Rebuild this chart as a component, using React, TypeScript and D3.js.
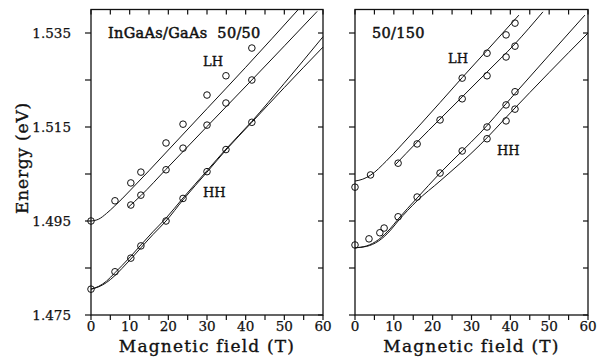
import React from 'react';
import * as d3 from 'd3';

// ---- shared axes ----
const energyTicks = [1.475, 1.485, 1.495, 1.505, 1.515, 1.525, 1.535];
const energyLabels = [1.475, 1.495, 1.515, 1.535];
const fieldTicks = [0, 5, 10, 15, 20, 25, 30, 35, 40, 45, 50, 55, 60];
const fieldLabels = [0, 10, 20, 30, 40, 50, 60];

// ---- 50/50 panel: measured points ----
const fieldL = [0, 6.2, 10.3, 12.9, 19.4, 23.8, 30, 34.9, 41.6];
const lhUpperL = [1.495, 1.4993, 1.5031, 1.5054, 1.5116, 1.5156, 1.5218, 1.5259, 1.5318];
const fieldLhLowerL = [10.3, 12.9, 19.4, 23.8, 30, 34.9, 41.6];
const lhLowerL = [1.4984, 1.5005, 1.5059, 1.5105, 1.5154, 1.5201, 1.525];
const hhL = [1.4805, 1.4842, 1.4871, 1.4897, 1.495, 1.4998, 1.5055, 1.5102, 1.516];

// ---- 50/50 panel: fitted curves [field, energy] ----
const curveLhUpperL: [number, number][] = [
  [0, 1.495], [2, 1.4954], [4, 1.4966], [6, 1.4981], [8, 1.4997], [10, 1.5014],
  [15, 1.5057], [20, 1.5101], [30, 1.5189], [40, 1.5277], [53.5, 1.5399],
];
const curveLhLowerL: [number, number][] = [
  [9.6, 1.4979], [12.9, 1.5004], [19.4, 1.506], [30, 1.5151], [41.6, 1.525], [58.5, 1.5396],
];
const curveHh1L: [number, number][] = [
  [0, 1.4805], [2, 1.4811], [4, 1.4822], [6.2, 1.484], [8, 1.4855], [10.3, 1.4875],
  [12.9, 1.4899], [16, 1.4927], [19.4, 1.4956], [23.8, 1.4999], [30, 1.5057],
  [34.9, 1.5103], [41.6, 1.5162], [50, 1.5243], [60, 1.5342],
];
const curveHh2L: [number, number][] = [
  [0, 1.4805], [2, 1.481], [4, 1.4819], [6.2, 1.4834], [8, 1.4849], [10.3, 1.4869],
  [12.9, 1.4893], [16, 1.4921], [19.4, 1.495], [23.8, 1.4995], [30, 1.5054],
  [34.9, 1.5101], [41.6, 1.516], [50, 1.5234], [60, 1.532],
];

// ---- 50/150 panel: measured points ----
const fieldLhUpperR = [0, 4.0, 27.6, 34, 38.9, 41.2];
const lhUpperR = [1.5022, 1.5048, 1.5254, 1.5307, 1.5346, 1.5371];
const fieldLhLowerR = [11.1, 16, 21.9, 27.6, 34, 38.9, 41.2];
const lhLowerR = [1.5073, 1.5114, 1.5165, 1.521, 1.5259, 1.5299, 1.5322];
const fieldHhUpperR = [0, 3.6, 6.4, 7.5, 11.1, 16, 21.9, 27.6, 34, 38.9, 41.2];
const hhUpperR = [1.4899, 1.4912, 1.4925, 1.4935, 1.4959, 1.5001, 1.5052, 1.5099, 1.515, 1.5197, 1.5225];
const fieldHhLowerR = [34, 38.9, 41.2];
const hhLowerR = [1.5125, 1.5163, 1.5188];

// ---- 50/150 panel: fitted curves ----
const curveLhUpperR: [number, number][] = [
  [0, 1.5035], [2, 1.5039], [4.1, 1.5048], [8, 1.5077], [12, 1.5112],
  [21.9, 1.5202], [27.6, 1.5255], [34, 1.5313], [42.2, 1.5388],
];
const curveLhLowerR: [number, number][] = [
  [10.3, 1.5069], [16, 1.5118], [21.9, 1.5167], [27.6, 1.5214], [34, 1.5267], [41.2, 1.5327], [48.4, 1.5395],
];
const curveHh1R: [number, number][] = [
  [0, 1.4893], [3, 1.4897], [6, 1.491], [9, 1.4933], [11.1, 1.4954], [16, 1.4999],
  [21.9, 1.5052], [27.6, 1.5099], [32.2, 1.5137], [40, 1.521], [50, 1.5303], [59.2, 1.5388],
];
const curveHh2R: [number, number][] = [
  [0, 1.4893], [3, 1.4896], [6, 1.4907], [9, 1.4929], [11.1, 1.495], [16, 1.4993],
  [21.9, 1.5035], [32.2, 1.5112], [40, 1.518], [50, 1.5266], [60, 1.535],
];

const FONT = '"DejaVu Serif", "Liberation Serif", serif';
const INK = '#111';
// scanned print looks a bit heavier than Book weight
const heavy = { stroke: INK, strokeWidth: 0.35 };

const y = d3.scaleLinear().domain([1.475, 1.54]).range([315, 9.5]);

interface PointSet {
  t: number[];
  e: number[];
}

interface PanelProps {
  x0: number;
  x1: number;
  curves: [number, number][][];
  points: PointSet[];
  showEnergyLabels: boolean;
  children?: React.ReactNode;
}

const Panel: React.FC<PanelProps> = ({ x0, x1, curves, points, showEnergyLabels, children }) => {
  const x = d3.scaleLinear().domain([0, 60]).range([x0, x1]);
  const line = d3
    .line<[number, number]>()
    .x((d) => x(d[0]))
    .y((d) => y(d[1]))
    .curve(d3.curveMonotoneX);
  const top = y(1.54);
  const bottom = y(1.475);

  return (
    <g>
      {curves.map((c, i) => (
        <path key={i} d={line(c) || ''} fill="none" stroke={INK} strokeWidth={1} />
      ))}
      {points.map((s, i) =>
        s.t.map((t, j) => (
          <circle key={`${i}-${j}`} cx={x(t)} cy={y(s.e[j])} r={3.3} fill="none" stroke={INK} strokeWidth={1} />
        ))
      )}
      <rect x={x0} y={top} width={x1 - x0} height={bottom - top} fill="none" stroke={INK} strokeWidth={1.3} />
      {energyTicks.map((v) => (
        <g key={v}>
          <line x1={x0 - 6} x2={x0} y1={y(v)} y2={y(v)} stroke={INK} strokeWidth={1.2} />
          <line x1={x1 - 5} x2={x1} y1={y(v)} y2={y(v)} stroke={INK} strokeWidth={1.2} />
        </g>
      ))}
      {fieldTicks.map((v) => (
        <g key={v}>
          <line x1={x(v)} x2={x(v)} y1={bottom} y2={bottom + 5} stroke={INK} strokeWidth={1.2} />
          <line x1={x(v)} x2={x(v)} y1={top} y2={top + 5} stroke={INK} strokeWidth={1.2} />
        </g>
      ))}
      {fieldLabels.map((v) => (
        <text key={v} x={x(v)} y={331} textAnchor="middle" fontFamily={FONT} fontSize={13.5} fill={INK} {...heavy} strokeWidth={0.25}>
          {v}
        </text>
      ))}
      {showEnergyLabels &&
        energyLabels.map((v) => (
          <text key={v} x={71} y={y(v)} dy="0.35em" textAnchor="end" fontFamily={FONT} fontSize={13.5} fill={INK} {...heavy} strokeWidth={0.25}>
            {v.toFixed(3)}
          </text>
        ))}
      <text x={(x0 + x1) / 2} y={352} textAnchor="middle" fontFamily={FONT} fontSize={17} letterSpacing={1.2} fill={INK} {...heavy}>
        Magnetic field (T)
      </text>
      {children}
    </g>
  );
};

export default function App() {
  return (
    <svg width={601} height={360} style={{ position: 'absolute', left: 0, top: 0, background: '#fff' }}>
      <rect width={601} height={360} fill="#fff" />
      <Panel
        x0={91}
        x1={323}
        curves={[curveLhUpperL, curveLhLowerL, curveHh1L, curveHh2L]}
        points={[
          { t: fieldL, e: lhUpperL },
          { t: fieldLhLowerL, e: lhLowerL },
          { t: fieldL, e: hhL },
        ]}
        showEnergyLabels
      >
        <text x={108} y={38} fontFamily={FONT} fontSize={14.5} letterSpacing={0.3} fill={INK} {...heavy} strokeWidth={0.5} style={{ whiteSpace: 'pre' }}>
          {'InGaAs/GaAs  50/50'}
        </text>
        <text x={203} y={66} fontFamily={FONT} fontSize={13} fill={INK} {...heavy}>LH</text>
        <text x={203} y={197} fontFamily={FONT} fontSize={13} fill={INK} {...heavy}>HH</text>
      </Panel>
      <Panel
        x0={355}
        x1={588}
        curves={[curveLhUpperR, curveLhLowerR, curveHh1R, curveHh2R]}
        points={[
          { t: fieldLhUpperR, e: lhUpperR },
          { t: fieldLhLowerR, e: lhLowerR },
          { t: fieldHhUpperR, e: hhUpperR },
          { t: fieldHhLowerR, e: hhLowerR },
        ]}
        showEnergyLabels={false}
      >
        <text x={372} y={38} fontFamily={FONT} fontSize={14.5} letterSpacing={0.3} fill={INK} {...heavy} strokeWidth={0.5}>50/150</text>
        <text x={448} y={63} fontFamily={FONT} fontSize={13} fill={INK} {...heavy}>LH</text>
        <text x={497} y={155} fontFamily={FONT} fontSize={13} fill={INK} {...heavy}>HH</text>
      </Panel>
      <text
        transform="translate(28,158) rotate(-90)"
        textAnchor="middle"
        fontFamily={FONT}
        fontSize={17}
        letterSpacing={0.8}
        fill={INK}
        {...heavy}
      >
        Energy (eV)
      </text>
    </svg>
  );
}
